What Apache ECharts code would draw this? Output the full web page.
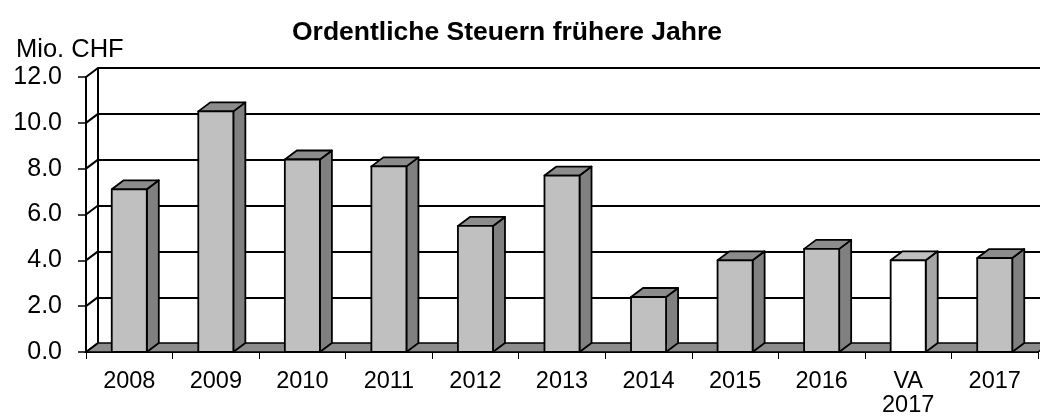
<!DOCTYPE html>
<html>
<head>
<meta charset="utf-8">
<script src="https://cdn.jsdelivr.net/npm/echarts@6/dist/echarts.min.js"></script>
<style>
html, body { margin: 0; padding: 0; background: #fff; }
#chart { width: 1040px; height: 418px; }
</style>
</head>
<body>
<div id="chart"></div>
<script>
// Daten
var categories = ['2008', '2009', '2010', '2011', '2012', '2013', '2014', '2015', '2016', 'VA\n2017', '2017'];
var values = [7.1, 10.5, 8.4, 8.1, 5.5, 7.7, 2.4, 4.0, 4.5, 4.0, 4.1];
var budgetCategory = 'VA\n2017';
var yTicks = [0, 2, 4, 6, 8, 10, 12];

// 3D-Tiefe
var dx = 12, dy = -9;
var font = 'Liberation Sans, Arial, sans-serif';

var chart = echarts.init(document.getElementById('chart'));

function renderBar(params, api) {
    var i = api.value(0);
    var v = api.value(1);
    var base = api.coord([i, 0]);
    var top = api.coord([i, v]);
    var w = api.size([1, 0])[0] * 0.405;
    var x = base[0] - w / 2;
    var budget = categories[i] === budgetCategory;
    var stroke = { stroke: '#000', lineWidth: 1.8, lineJoin: 'round' };
    return {
        type: 'group',
        children: [
            {
                type: 'polygon',
                shape: { points: [[x + w, top[1]], [x + w + dx, top[1] + dy], [x + w + dx, base[1] + dy], [x + w, base[1]]] },
                style: Object.assign({ fill: budget ? '#a6a6a6' : '#808080' }, stroke)
            },
            {
                type: 'polygon',
                shape: { points: [[x, top[1]], [x + dx, top[1] + dy], [x + w + dx, top[1] + dy], [x + w, top[1]]] },
                style: Object.assign({ fill: budget ? '#c0c0c0' : '#8c8c8c' }, stroke)
            },
            {
                type: 'rect',
                shape: { x: x, y: top[1], width: w, height: base[1] - top[1] },
                style: Object.assign({ fill: budget ? '#ffffff' : '#c0c0c0' }, stroke)
            }
        ]
    };
}

// Boden und Seitenwand
function renderWalls(params, api) {
    var cs = params.coordSys;
    var p = api.coord([0, api.value(1)]);
    var children = [{
        type: 'line',
        shape: { x1: cs.x, y1: p[1], x2: cs.x + dx, y2: p[1] + dy },
        style: { stroke: '#000', lineWidth: 2 }
    }];
    if (api.value(1) === 0) {
        children.unshift({
            type: 'polygon',
            shape: { points: [[cs.x, p[1]], [cs.x + dx, p[1] + dy], [cs.x + cs.width + dx, p[1] + dy], [cs.x + cs.width, p[1]]] },
            style: { fill: '#8c8c8c', stroke: '#000', lineWidth: 1.5 }
        });
    }
    return { type: 'group', children: children };
}

var option = {
    backgroundColor: '#fff',
    animation: false,
    title: [
        {
            text: 'Ordentliche Steuern frühere Jahre',
            left: 287,
            top: 14,
            textStyle: { fontFamily: font, fontSize: 26.5, fontWeight: 'bold', color: '#000' }
        },
        {
            text: 'Mio. CHF',
            left: 11,
            top: 32,
            textStyle: { fontFamily: font, fontSize: 25.5, fontWeight: 'normal', color: '#000' }
        }
    ],
    grid: [
        { left: 86, top: 77, width: 952, height: 276 },
        { left: 86 + dx, top: 77 + dy, width: 952, height: 276 }
    ],
    xAxis: [
        {
            gridIndex: 0,
            type: 'category',
            data: categories,
            axisLine: { lineStyle: { color: '#000', width: 2 } },
            axisTick: { show: true, length: 7, interval: 0, lineStyle: { color: '#000', width: 1 } },
            axisLabel: { interval: 0, fontFamily: font, fontSize: 23.5, color: '#000', margin: 18, lineHeight: 24 },
            splitLine: { show: false }
        },
        {
            gridIndex: 1,
            type: 'category',
            data: categories,
            show: false
        }
    ],
    yAxis: [
        {
            gridIndex: 0,
            type: 'value',
            min: 0,
            max: 12,
            interval: 2,
            axisLine: { show: true, lineStyle: { color: '#000', width: 2 } },
            axisTick: { show: true, length: 8, lineStyle: { color: '#000', width: 1.5 } },
            axisLabel: {
                fontFamily: font, fontSize: 25, color: '#000', margin: 24,
                formatter: function (v) { return v.toFixed(1); }
            },
            splitLine: { show: false }
        },
        {
            gridIndex: 1,
            type: 'value',
            min: 0,
            max: 12,
            interval: 2,
            axisLine: { show: true, lineStyle: { color: '#000', width: 2 } },
            axisTick: { show: false },
            axisLabel: { show: false },
            splitLine: { show: true, lineStyle: { color: '#000', width: 2 } }
        }
    ],
    series: [
        {
            type: 'custom',
            xAxisIndex: 0,
            yAxisIndex: 0,
            clip: false,
            z: 1,
            renderItem: renderWalls,
            data: yTicks.map(function (t) { return [0, t]; })
        },
        {
            type: 'custom',
            xAxisIndex: 0,
            yAxisIndex: 0,
            clip: false,
            z: 3,
            renderItem: renderBar,
            data: values.map(function (v, i) { return [i, v]; })
        }
    ]
};

chart.setOption(option);
</script>
</body>
</html>
